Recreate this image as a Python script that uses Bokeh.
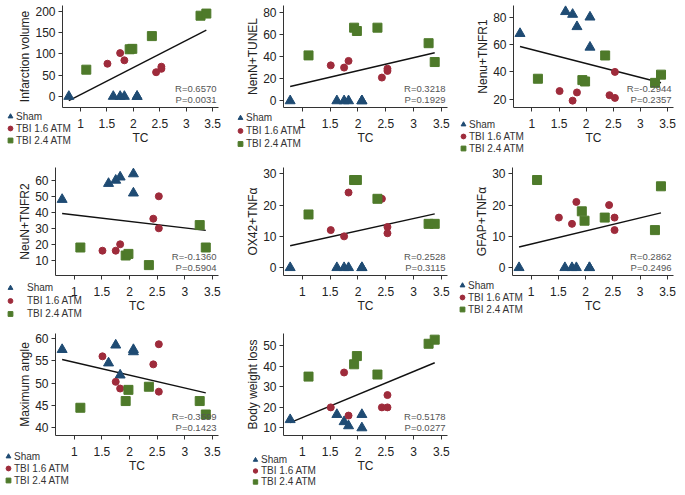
import numpy as np
from bokeh.plotting import figure
from bokeh.layouts import gridplot
from bokeh.models import Legend, LegendItem, Label, Range1d, FixedTicker
from bokeh.embed import file_html
from bokeh.resources import INLINE

# TC values of each group (x)
sham_tc = [0.78, 1.62, 1.75, 1.83, 2.07, 2.07]
tbi16_tc = [1.51, 1.75, 1.83, 2.43, 2.53, 2.53]
tbi24_tc = [1.11, 1.93, 1.98, 2.35, 3.27, 3.38]

group_labels = ["Sham", "TBI 1.6 ATM", "TBI 2.4 ATM"]
x_ticks = [1, 1.5, 2, 2.5, 3, 3.5]

infarct_sham = [0, 0, 0, 0, 0, 0]
infarct_16 = [77, 102, 85, 57, 65, 70]
infarct_24 = [63, 111, 112, 142, 190, 195]

tunel_sham = [0, 0, 0, 0, 0, 0]
tunel_16 = [32, 30, 36, 21, 27, 29]
tunel_24 = [41, 66, 63, 66, 52, 35]

tnfr1_sham = [68, 84, 82, 73, 80, 58]
tnfr1_16 = [26, 19, 25, 23, 21, 40]
tnfr1_24 = [35, 34, 33, 52, 32, 38]

tnfr2_sham = [48, 58, 60, 62, 64, 52]
tnfr2_16 = [16, 16, 20, 36, 50, 30]
tnfr2_24 = [18, 13, 14, 7, 32, 18]

ox42_sham = [0, 0, 0, 0, 0, 0]
ox42_16 = [12, 10, 24, 22, 13, 11]
ox42_24 = [17, 28, 28, 22, 14, 14]

gfap_sham = [0, 0, 0, 0, 0, 0]
gfap_16 = [16, 14, 21, 20, 16, 12]
gfap_24 = [28, 18, 15, 16, 12, 26]

angle_sham = [57.5, 54.5, 58.5, 51.8, 57.5, 57.0]
angle_16 = [56.0, 50.3, 48.8, 54.2, 58.7, 48.1]
angle_24 = [44.5, 46.0, 48.5, 49.2, 46.0, 43.0]

bwl_sham = [14, 16.5, 13, 11, 16.5, 10]
bwl_16 = [20, 37, 16, 20, 26, 20]
bwl_24 = [35, 41, 45, 36, 51, 53]

y_labels = ["Infarction volume", "NenN+TUNEL", "Nenu+TNFR1", "NeuN+TNFR2",
            "OX42+TNF\u03b1", "GFAP+TNF\u03b1", "Maximum angle", "Body weight loss"]
r_texts = ["R=0.6570", "R=0.3218", "R=-0.2944", "R=-0.1360",
           "R=0.2528", "R=0.2862", "R=-0.3599", "R=0.5178"]
p_texts = ["P=0.0031", "P=0.1929", "P=0.2357", "P=0.5904",
           "P=0.3115", "P=0.2496", "P=0.1423", "P=0.0277"]
y_tick_sets = [[0, 50, 100, 150, 200], [0, 20, 40, 60, 80], [20, 40, 60, 80],
               [10, 20, 30, 40, 50, 60], [0, 10, 20, 30], [0, 10, 20, 30],
               [40, 45, 50, 55, 60], [10, 20, 30, 40, 50]]

series = [
    (infarct_sham, infarct_16, infarct_24),
    (tunel_sham, tunel_16, tunel_24),
    (tnfr1_sham, tnfr1_16, tnfr1_24),
    (tnfr2_sham, tnfr2_16, tnfr2_24),
    (ox42_sham, ox42_16, ox42_24),
    (gfap_sham, gfap_16, gfap_24),
    (angle_sham, angle_16, angle_24),
    (bwl_sham, bwl_16, bwl_24),
]

# ---- layout / style (pixels inside each panel) ----
X_IN = (0.66, 3.61)
y_in = [(-26, 214), (-6, 86), (14, 88.5), (0.5, 68), (-2.5, 32),
        (-2.5, 32), (38.3, 61.1), (6.3, 56)]
col_w = [225, 226, 226]
row_h = [162, 162, 163]
row_tb = [(5, 107), (5, 113), (9, 111)]
axis_left = [62, 58, 62, 55, 58, 61, 55, 58]
axis_right = [218, 222, 222]
# legend: glyph centre x, first entry centre below axis, entry height, label standoff
leg_cfg = [(10, 9, 12, 0), (15, 10, 13, 0), (12, 17, 12, 0), (10, 12, 13, 11),
           None, (11, 10, 12, 0), (8, 21, 12, 0), (30, 24, 11, 0)]

FONT = "Liberation Sans"
BLUE = "#1f4b73"
RED = "#9e2b3b"
GREEN = "#4e7a2a"
AX = "#333333"

figs = []
for i in range(8):
    row, col = divmod(i, 3)
    W = col_w[col]
    H = row_h[row]
    T, B = row_tb[row]
    L, R = axis_left[i], axis_right[col]
    xi0, xi1 = X_IN
    yi0, yi1 = y_in[i]
    sx = (xi1 - xi0) / (R - L)
    sy = (yi1 - yi0) / (B - T)
    xr = Range1d(xi0 - L * sx, xi1 + (W - R) * sx)
    yr = Range1d(yi0 - (H - B) * sy, yi1 + T * sy)

    p = figure(width=W, height=H, output_backend="svg", toolbar_location=None,
               x_range=xr, y_range=yr, min_border=0)
    p.outline_line_color = None
    p.xgrid.visible = False
    p.ygrid.visible = False
    for ax in (p.xaxis, p.yaxis):
        ax.axis_line_color = AX
        ax.major_tick_line_color = AX
        ax.major_tick_out = 4
        ax.major_tick_in = 0
        ax.minor_tick_line_color = None
        ax.major_label_text_font = FONT
        ax.major_label_text_font_size = "12px"
        ax.major_label_text_color = "#222222"
        ax.axis_label_text_font = FONT
        ax.axis_label_text_font_size = "12px"
        ax.axis_label_text_font_style = "normal"
        ax.axis_label_text_color = "#222222"
    p.xaxis.ticker = FixedTicker(ticks=x_ticks)
    p.yaxis.ticker = FixedTicker(ticks=y_tick_sets[i])
    p.xaxis.axis_label = "TC"
    p.yaxis.axis_label = y_labels[i]
    p.xaxis.major_label_standoff = 7
    p.xaxis.axis_label_standoff = 0
    p.yaxis.major_label_standoff = 3
    p.yaxis.axis_label_standoff = 0
    p.xaxis.fixed_location = yi0
    p.xaxis.bounds = (xi0, xi1)
    p.yaxis.fixed_location = xi0
    p.yaxis.bounds = (yi0, yi1)

    ys, y16, y24 = series[i]
    xa = np.array(sham_tc + tbi16_tc + tbi24_tc, dtype=float)
    ya = np.array(list(ys) + list(y16) + list(y24), dtype=float)
    slope, icpt = np.polyfit(xa, ya, 1)
    lx = np.array([xa.min(), xa.max()])
    p.line(lx, slope * lx + icpt, line_color="#111111", line_width=1.4)

    r1 = p.scatter(sham_tc, ys, marker="triangle", size=10, color=BLUE)
    r2 = p.scatter(tbi16_tc, y16, marker="circle", size=7, color=RED)
    r3 = p.scatter(tbi24_tc, y24, marker="square", size=9, color=GREEN)

    p.add_layout(Label(x=xi1 - 2 * sx, y=yi0 + 3 * sy, text=p_texts[i],
                       text_align="right", text_baseline="bottom",
                       text_font=FONT, text_font_size="9.5px", text_color="#555555"))
    p.add_layout(Label(x=xi1 - 2 * sx, y=yi0 + 14 * sy, text=r_texts[i],
                       text_align="right", text_baseline="bottom",
                       text_font=FONT, text_font_size="9.5px", text_color="#555555"))

    if leg_cfg[i] is not None:
        cx, dy, lh, so = leg_cfg[i]
        top = B + dy - lh / 2
        bottom_from_base = int(round(H - (top + 3 * lh)))
        leg = Legend(items=[LegendItem(label=group_labels[0], renderers=[r1]),
                            LegendItem(label=group_labels[1], renderers=[r2]),
                            LegendItem(label=group_labels[2], renderers=[r3])],
                     location=(cx - 6, bottom_from_base), orientation="vertical",
                     label_text_font=FONT, label_text_font_size="10px",
                     label_text_color="#333333", label_height=lh, glyph_height=lh,
                     glyph_width=12, label_standoff=so, spacing=0,
                     padding=0, margin=0, border_line_alpha=0, background_fill_alpha=0)
        p.add_layout(leg)
    figs.append(p)

grid = gridplot([figs[0:3], figs[3:6], figs[6:8] + [None]], toolbar_location=None)

open("out.html", "w").write(file_html(grid, INLINE))
